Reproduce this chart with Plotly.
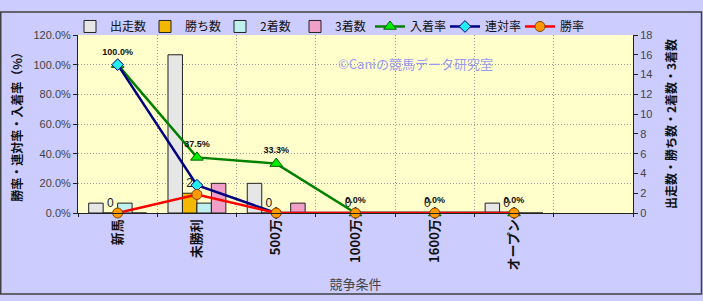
import plotly.graph_objects as go

categories = ["新馬", "未勝利", "500万", "1000万", "1600万", "オープン"]
all_slots = categories + [" "]
starts = [1, 16, 3, 0, 0, 1]
wins = [0, 2, 0, 0, 0, 0]
seconds = [1, 1, 0, 0, 0, 0]
thirds = [0, 3, 1, 0, 0, 0]
place_rate = [1.0, 0.375, 0.333, 0.0, 0.0, 0.0]
quinella_rate = [1.0, 0.1875, 0.0, 0.0, 0.0, 0.0]
win_rate = [0.0, 0.125, 0.0, 0.0, 0.0, 0.0]

FONT = "Liberation Sans, Noto Sans CJK JP, sans-serif"
JP = "Noto Sans CJK JP, sans-serif"

fig = go.Figure()

bar_specs = [
    ("出走数", starts, "#e6e6e6"),
    ("勝ち数", wins, "#f5b800"),
    ("2着数", seconds, "#bff0f0"),
    ("3着数", thirds, "#f0a0c8"),
]
for name, vals, col in bar_specs:
    kw = {}
    if name == "勝ち数":
        kw = dict(text=[str(v) for v in vals], textposition="outside",
                  textfont=dict(size=12, color="#222", family=FONT),
                  cliponaxis=False)
    fig.add_trace(go.Bar(x=categories, y=vals, name=name, yaxis="y",
                         marker=dict(color=col, line=dict(color="#222", width=1)),
                         **kw))

fig.add_trace(go.Scatter(
    x=categories, y=place_rate, name="入着率", yaxis="y2",
    mode="lines+markers+text",
    line=dict(color="#008000", width=2.5),
    marker=dict(symbol="triangle-up", size=11, color="#00ee00",
                line=dict(color="#006000", width=1)),
    text=[f"{v*100:.1f}%" for v in place_rate], textposition="top center",
    textfont=dict(size=9, color="#111", family="Liberation Sans", weight="bold"),
    cliponaxis=False))
fig.add_trace(go.Scatter(
    x=categories, y=quinella_rate, name="連対率", yaxis="y2",
    mode="lines+markers",
    line=dict(color="#000080", width=2.5),
    marker=dict(symbol="diamond", size=9, color="#22eeee",
                line=dict(color="#000080", width=1)),
    cliponaxis=False))
fig.add_trace(go.Scatter(
    x=categories, y=win_rate, name="勝率", yaxis="y2",
    mode="lines+markers",
    line=dict(color="#ff0000", width=2.5),
    marker=dict(symbol="circle", size=10, color="#ff9900",
                line=dict(color="#804000", width=1)),
    cliponaxis=False))

# figure border
L, R, T, B, W, H = 78, 70, 25, 88, 703, 301
pw, ph = W - L - R, H - T - B
def px(xp): return (xp - L) / pw
def py(yp): return (H - B - yp) / ph

fig.add_shape(type="rect", xref="paper", yref="paper",
              x0=px(0.75), x1=px(W - 1.5), y0=py(H - 2.5), y1=py(0.75),
              line=dict(color="#404040", width=1.5), fillcolor="rgba(0,0,0,0)",
              layer="above")

fig.add_annotation(text="©Caniの競馬データ研究室", xref="paper", yref="paper",
                   x=px(495), y=py(43), showarrow=False,
                   font=dict(size=13, color="#9a9af0", family=JP))

GRID = dict(showgrid=True, gridcolor="#9a9a9a", griddash="1px,2px", gridwidth=1)

fig.update_layout(
    width=W, height=H,
    margin=dict(l=L, r=R, t=T, b=B),
    paper_bgcolor="#ccccff",
    plot_bgcolor="#ffffcc",
    barmode="group", bargap=0.27, bargroupgap=0,
    font=dict(family=FONT, size=11, color="#333"),
    showlegend=True,
    legend=dict(orientation="h", x=px(70), y=py(16), xanchor="left", yanchor="middle",
                bgcolor="rgba(0,0,0,0)", font=dict(size=12, color="#111", family=JP),
                entrywidth=30, itemwidth=30, traceorder="normal"),
    xaxis=dict(type="category", categoryorder="array", categoryarray=all_slots,
               range=[-0.5, 6.5], tickson="boundaries", tickangle=-90,
               showline=True, linecolor="#222", linewidth=1,
               ticks="outside", ticklen=3, tickcolor="#222",
               tickfont=dict(size=13, color="#111", family=JP, weight="bold"),
               title=dict(text="競争条件", font=dict(size=13, color="#444", family=JP),
                          standoff=10), **GRID),
    yaxis=dict(side="right", range=[0, 18], dtick=2, showgrid=False,
               showline=True, linecolor="#222", linewidth=1,
               ticks="outside", ticklen=4, tickcolor="#222",
               tickfont=dict(size=11, color="#444"), zeroline=False,
               title=dict(text="出走数・勝ち数・2着数・3着数",
                          font=dict(size=12, color="#111", family=JP, weight="bold"),
                          standoff=16)),
    yaxis2=dict(overlaying="y", side="left", range=[0, 1.2], dtick=0.2,
                tickformat=".1%", showline=True, linecolor="#222", linewidth=1,
                ticks="outside", ticklen=4, tickcolor="#222", zeroline=False,
                tickfont=dict(size=11, color="#444"),
                title=dict(text="勝率・連対率・入着率（%）",
                           font=dict(size=12, color="#111", family=JP, weight="bold"),
                           standoff=8), **GRID),
)

fig.write_html("out.html")
